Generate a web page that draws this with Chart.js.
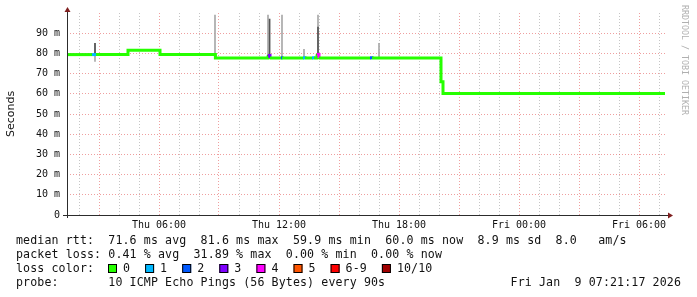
<!DOCTYPE html>
<html>
<head>
<meta charset="utf-8">
<script src="https://cdn.jsdelivr.net/npm/chart.js@4.4.1/dist/chart.umd.min.js"></script>
<style>
  html, body { margin: 0; padding: 0; background: #fff; }
  #wrap { width: 697px; height: 297px; }
</style>
</head>
<body>
<div id="wrap"><canvas id="rtt" width="697" height="297"></canvas></div>
<script>
// time axis: hours since Thu 00:00
const medianTimes = [1.4, 2.65, 2.85, 4.45, 6.05, 8.82, 11.45, 11.55, 12.1, 12.15, 13.2, 13.3, 13.65, 13.75, 13.9, 14.0, 16.55, 16.65, 20.1, 20.2, 31.3];
const medianMs    = [79.4, 79.4, 79.4, 81.6, 79.4, 77.7, 79.0, 77.7, 77.9, 77.7, 77.9, 77.7, 77.9, 77.7, 79.5, 77.7, 77.9, 77.7, 66.0, 60.1, 60.1];
const medianLoss  = [0, 1, 0, 0, 0, 0, 3, 0, 2, 0, 1, 0, 1, 0, 4, 0, 2, 0, 0, 0, 0];

// smoke (spread of the pings)
const smokeTimes = [2.8, 8.8, 11.45, 12.15, 13.25, 13.95, 17.0];
const smokeLow   = [76, 78, 78, 78, 78, 79, 78];
const smokeHigh  = [85, 99, 99, 99, 82, 99, 85];
const darkTimes = [2.8, 11.53, 13.95];
const darkLow   = [79, 78, 79];
const darkHigh  = [85, 97, 93];

const lossColors = ['#26ff00', '#00b8ff', '#0059ff', '#7e00ff', '#ff00ff', '#ff5500', '#ff0000', '#a00000'];
const lossLabels = ['0', '1', '2', '3', '4', '5', '6-9', '10/10'];

const rttLine   = 'median rtt:  71.6 ms avg  81.6 ms max  59.9 ms min  60.0 ms now  8.9 ms sd  8.0   am/s';
const lossLine  = 'packet loss: 0.41 % avg  31.89 % max  0.00 % min  0.00 % now';
const probeLine = 'probe:       10 ICMP Echo Pings (56 Bytes) every 90s';
const stampText = 'Fri Jan  9 07:21:17 2026';

const hourTicks = [];
for (let h = 2; h <= 31; h++) hourTicks.push(h);
const msTicks = [];
for (let v = 0; v <= 95; v += 5) msTicks.push(v);

const MONO = '"DejaVu Sans Mono", monospace';
const MAJOR = 'rgba(225,80,80,0.55)';
const MINOR = 'rgba(150,150,150,0.55)';
const CW = 7.1; // legend character cell

const medianPoints = medianTimes.map((t, i) => ({x: t, y: medianMs[i]}));

// rrdtool lays the legend out on a fixed character grid
const monoText = (ctx, str, x, y) => {
  for (let i = 0; i < str.length; i++) {
    if (str[i] !== ' ') ctx.fillText(str[i], x + i * CW, y);
  }
};

const extras = {
  id: 'extras',
  afterDraw(chart) {
    const {ctx, chartArea: a} = chart;
    ctx.save();
    // axes
    ctx.strokeStyle = '#2c2c2c';
    ctx.lineWidth = 1;
    ctx.beginPath();
    ctx.moveTo(a.left + 0.5, a.bottom + 3);
    ctx.lineTo(a.left + 0.5, a.top - 3);
    ctx.moveTo(a.left - 4, a.bottom + 0.5);
    ctx.lineTo(a.right + 2, a.bottom + 0.5);
    ctx.stroke();
    ctx.fillStyle = '#7f1f1f';
    ctx.beginPath();
    ctx.moveTo(a.left + 0.5, a.top - 6);
    ctx.lineTo(a.left - 2.5, a.top - 1);
    ctx.lineTo(a.left + 3.5, a.top - 1);
    ctx.fill();
    ctx.beginPath();
    ctx.moveTo(a.right + 6, a.bottom + 0.5);
    ctx.lineTo(a.right + 1, a.bottom - 2.5);
    ctx.lineTo(a.right + 1, a.bottom + 3.5);
    ctx.fill();

    // axis title
    ctx.fillStyle = '#111';
    ctx.font = '11px "DejaVu Sans", sans-serif';
    ctx.textAlign = 'center';
    ctx.textBaseline = 'middle';
    ctx.translate(11, 114);
    ctx.rotate(-Math.PI / 2);
    ctx.fillText('Seconds', 0, 0);
    ctx.setTransform(1, 0, 0, 1, 0, 0);

    // watermark
    ctx.fillStyle = '#b0b0b0';
    ctx.font = '8.3px ' + MONO;
    ctx.textAlign = 'left';
    ctx.translate(684, 5);
    ctx.rotate(Math.PI / 2);
    ctx.fillText('RRDTOOL / TOBI OETIKER', 0, 0);
    ctx.setTransform(1, 0, 0, 1, 0, 0);

    // legend
    ctx.fillStyle = '#111';
    ctx.font = '11.6px ' + MONO;
    ctx.textAlign = 'left';
    ctx.textBaseline = 'middle';
    monoText(ctx, rttLine, 16, 241);
    monoText(ctx, lossLine, 16, 255);
    monoText(ctx, 'loss color:', 16, 269);
    let bx = 108;
    lossLabels.forEach((lab, i) => {
      ctx.fillStyle = lossColors[i];
      ctx.fillRect(bx, 264, 9, 9);
      ctx.strokeStyle = '#000';
      ctx.strokeRect(bx + 0.5, 264.5, 8, 8);
      ctx.fillStyle = '#111';
      monoText(ctx, lab, bx + 15, 269);
      bx += 30 + lab.length * CW;
    });
    monoText(ctx, probeLine, 16, 283);
    monoText(ctx, stampText, 681 - stampText.length * CW, 283);
    ctx.restore();
  }
};

const hourGridColor = (c) => {
  if (!c.tick) return MINOR;
  return c.tick.value % 3 === 0 ? MAJOR : MINOR;
};
const msGridColor = (c) => {
  if (!c.tick) return MINOR;
  if (c.tick.value === 0) return 'rgba(0,0,0,0)';
  return c.tick.value % 10 === 0 ? MAJOR : MINOR;
};

new Chart(document.getElementById('rtt'), {
  type: 'line',
  data: {
    datasets: [
      {
        label: 'median',
        data: medianPoints,
        stepped: true,
        borderWidth: 3,
        borderCapStyle: 'butt',
        pointRadius: 0,
        order: 0,
        segment: {
          borderColor: (c) => lossColors[medianLoss[c.p0DataIndex]],
        },
      },
      {
        label: 'median line',
        data: medianPoints,
        stepped: true,
        borderWidth: 1.5,
        borderColor: '#202020',
        pointRadius: 0,
        order: 1,
      },
      {
        type: 'bar',
        label: 'smoke dark',
        data: darkTimes.map((t, i) => ({x: t, y: [darkLow[i], darkHigh[i]]})),
        backgroundColor: '#555555',
        barThickness: 1,
        grouped: false,
        order: 2,
      },
      {
        type: 'bar',
        label: 'smoke',
        data: smokeTimes.map((t, i) => ({x: t, y: [smokeLow[i], smokeHigh[i]]})),
        backgroundColor: '#a8a8a8',
        barThickness: 1,
        grouped: false,
        order: 3,
      },
    ],
  },
  options: {
    responsive: false,
    animation: false,
    devicePixelRatio: 1,
    layout: {padding: {left: 0, top: 13, right: 30, bottom: 0}},
    plugins: {legend: {display: false}, tooltip: {enabled: false}},
    scales: {
      x: {
        type: 'linear',
        min: 1.4,
        max: 31.4,
        offset: false,
        afterBuildTicks: (s) => { s.ticks = hourTicks.map((v) => ({value: v})); },
        afterFit: (s) => { s.height = 82; },
        border: {display: false, dash: [1, 2]},
        grid: {drawTicks: false, offset: false, color: hourGridColor},
        ticks: {
          autoSkip: false,
          maxRotation: 0,
          padding: 4,
          color: '#111',
          font: {family: MONO, size: 10},
          callback: (v) => {
            if (v % 6 !== 0) return '';
            const day = v < 24 ? 'Thu' : 'Fri';
            return day + ' ' + String(v % 24).padStart(2, '0') + ':00';
          },
        },
      },
      y: {
        min: 0,
        max: 100,
        beginAtZero: true,
        afterBuildTicks: (s) => { s.ticks = msTicks.map((v) => ({value: v})); },
        afterFit: (s) => { s.width = 67; },
        border: {display: false, dash: [1, 2]},
        grid: {drawTicks: false, color: msGridColor},
        ticks: {
          padding: 7,
          color: '#111',
          font: {family: MONO, size: 10},
          callback: (v) => (v % 10 !== 0 ? '' : v === 0 ? '0' : v + ' m'),
        },
      },
    },
  },
  plugins: [extras],
});
</script>
</body>
</html>
